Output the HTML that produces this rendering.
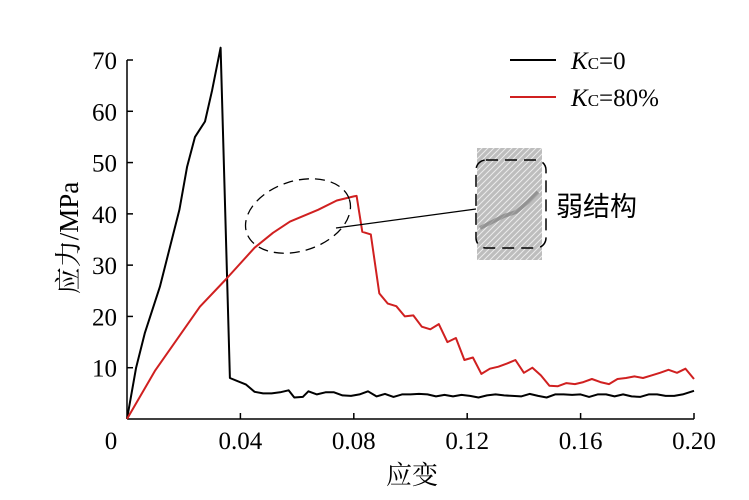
<!DOCTYPE html>
<html><head><meta charset="utf-8"><style>
html,body{margin:0;padding:0;background:#fff;}
svg{display:block;font-family:"Liberation Serif","Noto Serif CJK SC",serif;}
</style></head><body>
<svg id="chart" width="749" height="500" viewBox="0 0 749 500" xmlns="http://www.w3.org/2000/svg">
<defs>
<pattern id="tex" width="6" height="6" patternUnits="userSpaceOnUse">
<rect width="6" height="6" fill="#bdbdbd"/><path d="M0 6 L6 0 M-1 1 L1 -1 M5 7 L7 5" stroke="#ececec" stroke-width="1"/>
</pattern>
</defs>
<g id="axes"></g>
<g id="series"></g>
<g>
<line x1="510" y1="60" x2="556" y2="60" stroke="#000" stroke-width="2"/>
<text x="571" y="69" font-size="25"><tspan font-style="italic">K</tspan><tspan font-size="17">C</tspan>=0</text>
<line x1="510" y1="97" x2="556" y2="97" stroke="#d02020" stroke-width="2"/>
<text x="571" y="106" font-size="25"><tspan font-style="italic">K</tspan><tspan font-size="17">C</tspan>=80%</text>
</g>
<g>
<ellipse cx="298" cy="216" rx="54" ry="35" transform="rotate(-18 298 216)" fill="none" stroke="#000" stroke-width="1.3" stroke-dasharray="10,6"/>
<line x1="336" y1="228" x2="476" y2="209" stroke="#000" stroke-width="1.2"/>
<rect x="477" y="148" width="65" height="112" fill="url(#tex)"/>
<path d="M480 228 L492 222 L504 216 L516 212 L528 202 L538 192" stroke="#777" stroke-width="4" fill="none" opacity="0.6"/>
<rect x="476" y="160" width="70" height="88" rx="10" fill="none" stroke="#000" stroke-width="1.5" stroke-dasharray="12,7"/>
<text x="556" y="216" font-size="27" font-family="Liberation Sans, Noto Sans CJK SC, sans-serif">弱结构</text>
</g>
</svg>
<script>
const xTicks=[0,0.04,0.08,0.12,0.16,0.20];
const xTickLabels=["0","0.04","0.08","0.12","0.16","0.20"];
const yTicks=[10,20,30,40,50,60,70];
const yTickLabels=["10","20","30","40","50","60","70"];
const blackX=[0,0.0032,0.0063,0.0116,0.0185,0.0212,0.024,0.0275,0.030,0.033,0.0363,0.042,0.045,0.048,0.051,0.054,0.057,0.059,0.062,0.064,0.067,0.070,0.073,0.076,0.079,0.082,0.085,0.088,0.091,0.094,0.097,0.100,0.103,0.106,0.109,0.112,0.115,0.118,0.121,0.124,0.127,0.130,0.133,0.136,0.139,0.142,0.145,0.148,0.151,0.154,0.157,0.160,0.163,0.166,0.169,0.172,0.175,0.178,0.181,0.184,0.187,0.190,0.193,0.196,0.200];
const blackY=[0,10,16.8,25.8,40.8,49.2,55,58,64,72.4,8,6.7,5.3,5,5,5.2,5.6,4.2,4.3,5.4,4.8,5.2,5.2,4.6,4.5,4.8,5.4,4.4,4.9,4.3,4.8,4.8,4.9,4.8,4.4,4.7,4.4,4.7,4.5,4.2,4.6,4.8,4.6,4.5,4.4,4.9,4.5,4.2,4.8,4.8,4.7,4.8,4.3,4.8,4.8,4.4,4.8,4.4,4.3,4.8,4.8,4.5,4.5,4.8,5.5];
const redX=[0,0.010,0.0257,0.035,0.045,0.0515,0.0575,0.0674,0.074,0.080,0.081,0.083,0.086,0.089,0.092,0.095,0.098,0.101,0.104,0.107,0.110,0.113,0.116,0.119,0.122,0.125,0.128,0.131,0.134,0.137,0.140,0.143,0.146,0.149,0.152,0.155,0.158,0.161,0.164,0.167,0.170,0.173,0.176,0.179,0.182,0.185,0.188,0.191,0.194,0.197,0.200];
const redY=[0,9.5,21.9,27.3,33.4,36.3,38.5,40.8,42.6,43.4,43.5,36.5,36,24.5,22.5,22,20,20.2,18,17.5,18.5,15,15.8,11.5,12,8.8,9.8,10.2,10.8,11.5,9,10,8.5,6.5,6.4,7,6.8,7.2,7.8,7.2,6.8,7.8,8,8.3,8,8.5,9,9.6,9,9.8,7.8];
const X0=127,X1=694,Y0=419,Y70=60;
function sx(v){return X0+(X1-X0)*v/0.2;}
function sy(v){return Y0-(Y0-Y70)*v/70;}
const NS="http://www.w3.org/2000/svg";
function mk(tag,attrs,parent,txt){const e=document.createElementNS(NS,tag);for(const k in attrs)e.setAttribute(k,attrs[k]);if(txt!==undefined)e.textContent=txt;parent.appendChild(e);return e;}
const ax=document.getElementById('axes');
let e=mk('line',{x1:X0,y1:Y0,x2:X1,y2:Y0,stroke:'#000','stroke-width':1.5},ax);


e=mk('line',{x1:X0,y1:Y0,x2:X0,y2:Y70,stroke:'#000','stroke-width':1.5},ax);


xTicks.forEach((t,i)=>{
  if(i>0){e=mk('line',{x1:sx(t),y1:Y0,x2:sx(t),y2:Y0-6,stroke:'#000','stroke-width':1.5},ax);
  
  }
  e=mk('text',{x:i==0?111:sx(t),y:449,'font-size':25,'text-anchor':'middle'},ax,xTickLabels[i]);
  
  
});
yTicks.forEach((t,i)=>{
  e=mk('line',{x1:X0,y1:sy(t),x2:X0+6,y2:sy(t),stroke:'#000','stroke-width':1.5},ax);
  
  
  e=mk('text',{x:117,y:sy(t)+9,'font-size':25,'text-anchor':'end'},ax,yTickLabels[i]);
  
  
});
e=mk('text',{x:0,y:0,'font-size':27,'text-anchor':'middle',transform:'translate(78,238) rotate(-90)'},ax,'应力/MPa');


e=mk('text',{x:412,y:484,'font-size':26,'text-anchor':'middle'},ax,'应变');


const sg=document.getElementById('series');
function line(xs,ys,col,name){
  const d=xs.map((x,i)=>(i?'L':'M')+sx(x).toFixed(1)+' '+sy(ys[i]).toFixed(1)).join(' ');
  const p=mk('path',{d:d,fill:'none',stroke:col,'stroke-width':2,'stroke-linejoin':'round'},sg);
  
  
}
line(blackX,blackY,'#000','series-kc-0');
line(redX,redY,'#d02020','series-kc-80');
</script>
</body></html>
